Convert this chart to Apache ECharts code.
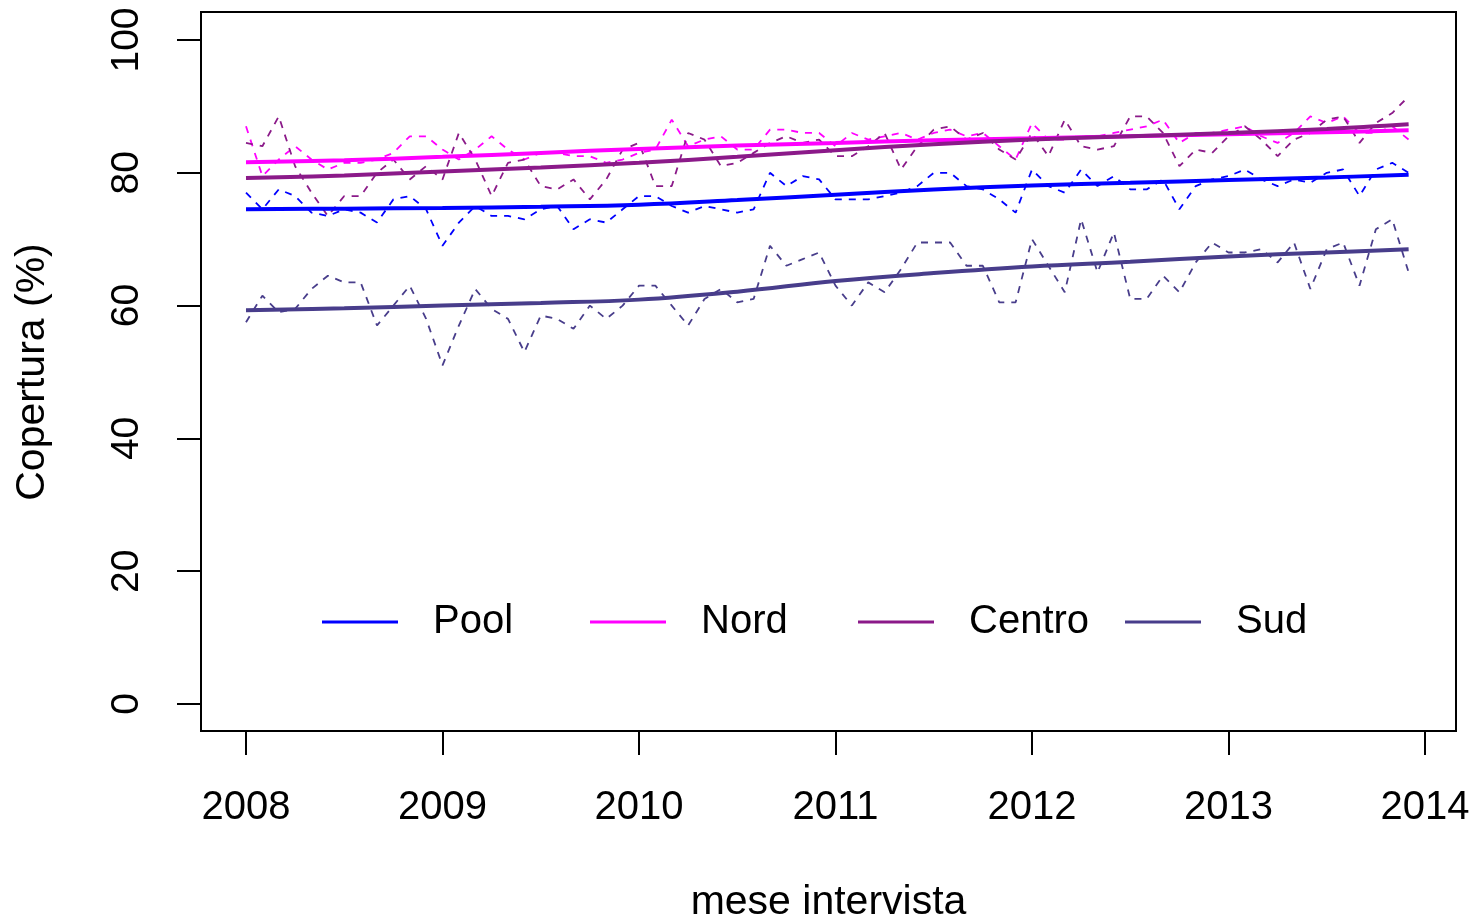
<!DOCTYPE html>
<html lang="it">
<head>
    <meta charset="UTF-8">
    <title>Copertura per area</title>
    <style>
        html, body { margin: 0; padding: 0; background: #fff; }
        #main { width: 1478px; height: 918px; }
    </style>
    <script src="https://cdn.jsdelivr.net/npm/echarts@6/dist/echarts.min.js"></script>
</head>
<body>
<div id="main"></div>
<script>
    var anni = [2008, 2009, 2010, 2011, 2012, 2013, 2014];
    var ticksY = [0, 20, 40, 60, 80, 100];
    var regioni = ['Pool', 'Nord', 'Centro', 'Sud'];
    var colori = ['#0000ff', '#ff00ff', '#8b1a89', '#483d8b'];

    // valori mensili, gennaio 2008 - dicembre 2013
    var poolMese = [77, 74.5, 77.5, 76.5, 74, 73.5, 74.5, 74, 72.5, 76, 76.5, 74.5,
        69, 72.5, 75, 73.5, 73.5, 73, 74.5, 75, 71.5, 73, 72.5, 74.5,
        76.5, 76.5, 75, 74, 75, 74.5, 74, 74.5, 80, 78, 79.5, 79,
        76, 76, 76, 76.5, 77, 78, 80, 80, 78, 77.5, 76, 74,
        80.5, 78, 77, 80.5, 78, 79.5, 77.5, 77.5, 79, 74.5, 78, 79,
        79.5, 80.5, 79, 78, 79, 78.5, 80, 80.5, 76.5, 80.5, 81.5, 80];
    var nordMese = [87, 79.5, 82, 84, 82, 80.5, 81.5, 81.5, 82, 83, 85.5, 85.5,
        83.5, 82, 83.5, 85.5, 83.5, 82, 83, 83, 82.5, 82.5, 81.5, 82,
        83, 83.5, 88, 84, 85, 85.5, 83.5, 83.5, 86.5, 86.5, 86, 86,
        84, 86, 85, 85.5, 86, 85, 86, 86.5, 85.5, 86, 84, 82,
        87.5, 85, 85, 85.5, 85.5, 86, 86.5, 87, 88, 84.5, 86, 86,
        86.5, 87, 85.5, 84.5, 86, 88.5, 87.5, 88.5, 86, 86, 87, 85];
    var centroMese = [84.5, 84, 88.5, 81, 77, 73.5, 76.5, 76.5, 80, 82, 79, 81,
        79, 86, 82, 76.5, 81.5, 82, 78, 77.5, 79, 76, 79, 83.5,
        84.5, 78, 78, 86, 85, 81, 81.5, 83, 84.5, 85.5, 84.5, 85,
        82.5, 82.5, 84, 86, 80.5, 84, 86.5, 87, 85, 86, 83.5, 82,
        86, 82.5, 88, 84, 83.5, 84, 88.5, 88.5, 86, 81, 83.5, 83,
        85.5, 87, 85, 82.5, 85, 86, 88, 88.5, 84.5, 87.5, 89, 91.5];
    var sudMese = [57.5, 61.5, 59, 59.5, 62.5, 64.5, 63.5, 63.5, 57, 60, 63, 58,
        51, 57, 62.5, 59.5, 58, 53, 58.5, 58, 56.5, 60, 58, 60,
        63, 63, 60, 57, 61, 62.5, 60.5, 61, 69, 66, 67, 68,
        63, 60, 63.5, 62, 65.5, 69.5, 69.5, 69.5, 66, 66, 60.5, 60.5,
        70, 66, 62, 73, 65, 71, 61, 61, 64.5, 62, 66.5, 69.5,
        68, 68, 68.5, 66.5, 69.5, 62.5, 68.5, 69.5, 63, 71.5, 73, 65];

    // trend lisciato, letto ogni 6 mesi
    var mesiTrend = [0, 6, 12, 18, 24, 30, 36, 42, 48, 54, 60, 66, 71];
    var poolTrend = [74.5, 74.6, 74.7, 74.9, 75.2, 75.9, 76.7, 77.5, 78.1, 78.5, 78.9, 79.3, 79.7];
    var nordTrend = [81.6, 81.9, 82.4, 83.0, 83.6, 84.1, 84.5, 84.9, 85.2, 85.5, 85.8, 86.1, 86.4];
    var centroTrend = [79.2, 79.6, 80.2, 80.8, 81.5, 82.4, 83.4, 84.3, 85.0, 85.5, 86.0, 86.6, 87.3];
    var sudTrend = [59.3, 59.6, 60.0, 60.4, 60.9, 62.1, 63.7, 64.9, 65.9, 66.6, 67.4, 68.0, 68.5];

    var mensili = [poolMese, nordMese, centroMese, sudMese];
    var trend = [poolTrend, nordTrend, centroTrend, sudTrend];

    function meseToX(m) { return anni[0] + m / 12; }

    var font = 'Liberation Sans, Arial, sans-serif';
    var series = [];

    mensili.forEach(function (vals, k) {
        series.push({
            name: regioni[k] + ' mese',
            type: 'line',
            symbol: 'none',
            data: vals.map(function (v, i) { return [meseToX(i), v]; }),
            lineStyle: { color: colori[k], width: 1.8, type: [7, 7] },
            z: 2
        });
    });
    trend.forEach(function (vals, k) {
        series.push({
            name: regioni[k],
            type: 'line',
            symbol: 'none',
            smooth: 0.4,
            data: vals.map(function (v, i) { return [meseToX(mesiTrend[i]), v]; }),
            lineStyle: { color: colori[k], width: 4 },
            itemStyle: { color: colori[k] },
            z: 3
        });
    });

    // legenda in quattro blocchi a passo fisso, come nell'originale
    var legendLeft = [322, 590, 858, 1125];
    var legende = regioni.map(function (r, k) {
        return {
            left: legendLeft[k],
            top: 602,
            padding: 0,
            data: [{ name: r, icon: 'rect' }],
            selectedMode: false,
            itemWidth: 76,
            itemHeight: 3,
            textStyle: { fontSize: 40, fontFamily: font, color: '#000', padding: [0, 0, 0, 30] }
        };
    });

    var chart = echarts.init(document.getElementById('main'));
    var option = {
        animation: false,
        backgroundColor: '#fff',
        grid: { left: 246, right: 53, top: 40, bottom: 214, outerBoundsMode: 'none' },
        xAxis: {
            type: 'value',
            min: anni[0], max: anni[anni.length - 1], interval: 1,
            offset: 27,
            name: 'mese intervista',
            nameLocation: 'middle',
            nameGap: 151,
            nameTextStyle: { fontSize: 41, fontFamily: font, color: '#000', padding: [0, 14, 0, 0] },
            axisLine: { onZero: false, lineStyle: { color: '#000', width: 2 } },
            axisTick: { length: 24, lineStyle: { color: '#000', width: 2 } },
            axisLabel: {
                fontSize: 40, fontFamily: font, color: '#000', margin: 57,
                formatter: function (v) { return String(v); }
            },
            splitLine: { show: false }
        },
        yAxis: {
            type: 'value',
            min: ticksY[0], max: ticksY[ticksY.length - 1], interval: 20,
            offset: 45,
            name: 'Copertura (%)',
            nameLocation: 'middle',
            nameRotate: 90,
            nameGap: 148,
            nameTextStyle: { fontSize: 41, fontFamily: font, color: '#000' },
            axisLine: { show: true, onZero: false, lineStyle: { color: '#000', width: 2 } },
            axisTick: { show: true, length: 24, lineStyle: { color: '#000', width: 2 } },
            axisLabel: { fontSize: 39, fontFamily: font, color: '#000', rotate: 90, margin: 54 },
            splitLine: { show: false }
        },
        legend: legende,
        graphic: [{
            type: 'rect',
            shape: { x: 201, y: 12, width: 1255, height: 719 },
            style: { fill: 'none', stroke: '#000', lineWidth: 2 },
            z: 10, silent: true
        }],
        series: series
    };
    chart.setOption(option);
</script>
</body>
</html>
